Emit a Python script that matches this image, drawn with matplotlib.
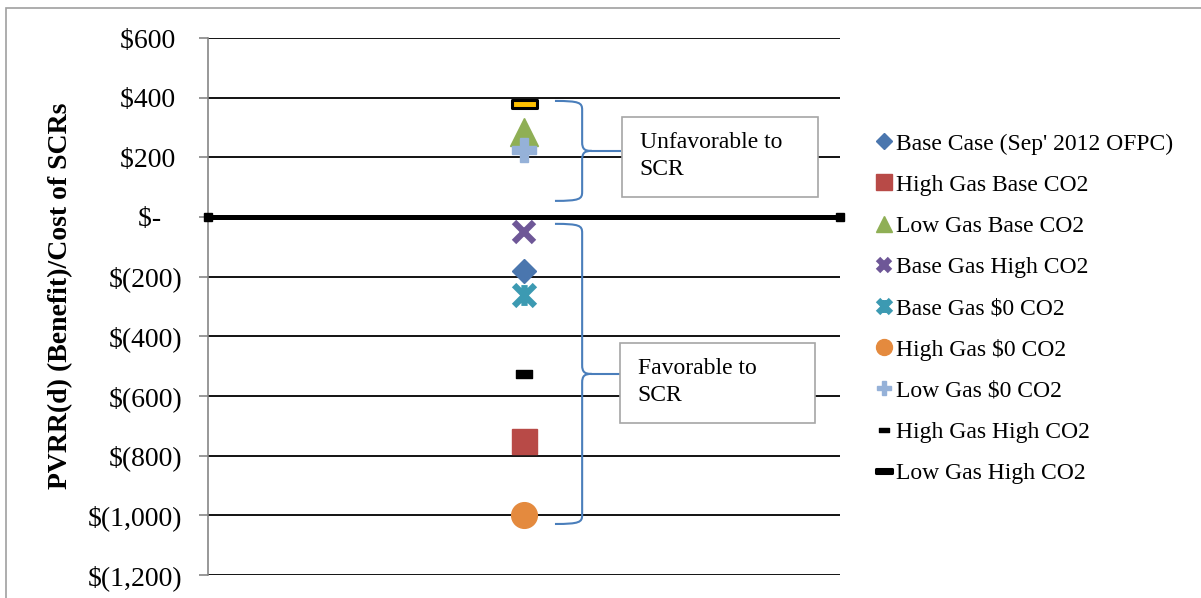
import numpy as np
import matplotlib
matplotlib.use("Agg")
import matplotlib.pyplot as plt
from matplotlib.path import Path
from matplotlib.patches import PathPatch, Rectangle
import matplotlib.transforms as mtransforms

plt.rcParams['font.family'] = ['Liberation Serif', 'DejaVu Serif']

# scenario results, PVRR(d) in $ millions
cases = ["Base Case (Sep' 2012 OFPC)", "High Gas Base CO2", "Low Gas Base CO2",
         "Base Gas High CO2", "Base Gas $0 CO2", "High Gas $0 CO2",
         "Low Gas $0 CO2", "High Gas High CO2", "Low Gas High CO2"]
pvrr = [-180, -750, 285, -50, -260, -1000, 225, -525, 380]

yticks = [600, 400, 200, 0, -200, -400, -600, -800, -1000, -1200]


def money(v):
    # accounting style: keep room for the closing bracket
    if v == 0:
        return "$-   "
    if v < 0:
        return "$({:,})".format(-v)
    return "${:,} ".format(v)


# marker shapes
dash_wide = Path([(-1, -0.3), (1, -0.3), (1, 0.3), (-1, 0.3), (-1, -0.3)],
                 [Path.MOVETO, Path.LINETO, Path.LINETO, Path.LINETO, Path.CLOSEPOLY])
dash_small = Path([(-1, -0.5), (1, -0.5), (1, 0.5), (-1, 0.5), (-1, -0.5)],
                  [Path.MOVETO, Path.LINETO, Path.LINETO, Path.LINETO, Path.CLOSEPOLY])
star = Path([(-0.5, -0.5), (0.5, 0.5), (-0.5, 0.5), (0.5, -0.5), (0, -0.5), (0, 0.5)],
            [Path.MOVETO, Path.LINETO, Path.MOVETO, Path.LINETO, Path.MOVETO, Path.LINETO])

styles = [
    dict(marker='D', ms=12.5, mfc='#4A76AE', mec='#4A76AE'),
    dict(marker='s', ms=18, mfc='#B84A47', mec='#B84A47'),
    dict(marker='^', ms=19.5, mfc='#8FAF55', mec='#8FAF55'),
    dict(marker='x', ms=15, mec='#6E5797', mew=4.5),
    dict(marker=star, ms=15, mfc='#3C9AB2', mec='#3C9AB2', mew=4.5),
    dict(marker='o', ms=18.5, mfc='#E48A3E', mec='#E48A3E'),
    dict(marker='P', ms=17, mfc='#95B1D8', mec='#95B1D8'),
    dict(marker=dash_small, ms=11, mfc='black', mec='black', mew=1),
    dict(marker=dash_wide, ms=18, mfc='#FFC000', mec='black', mew=2.2),
]

fig = plt.figure(figsize=(12.01, 5.98), dpi=100)
ax = fig.add_axes([208 / 1201, 1 - 575 / 598, 632 / 1201, 537 / 598])

for name, val, st in zip(cases, pvrr, styles):
    ax.plot([0.5], [val], linestyle='none', label=name, zorder=5, **st)

ax.set_xlim(0, 1)
ax.set_ylim(-1200, 600)
ax.set_yticks(yticks)
ax.set_yticklabels([money(v) for v in yticks], fontsize=20)
ax.set_xticks([])
ax.grid(axis='y', color='black', lw=1.3)
ax.set_axisbelow(True)
for s in ['top', 'right', 'bottom']:
    ax.spines[s].set_visible(False)
ax.spines['left'].set_color('#868686')
ax.spines['left'].set_linewidth(1.2)
ax.tick_params(axis='y', direction='out', length=6.5, width=1.2, color='#868686', pad=12)
ax.set_ylabel("PVRR(d) (Benefit)/Cost of SCRs", fontsize=20, fontweight='bold')
ax.yaxis.set_label_coords(-0.214, 0.52)

# break-even line
ax.axhline(0, color='black', lw=3.6, zorder=4)
ax.plot([0, 1], [0, 0], linestyle='none', marker='s', ms=6, color='black',
        clip_on=False, zorder=4)

# braces grouping the scenarios
trans = mtransforms.blended_transform_factory(ax.transAxes, ax.transData)


def brace(top, bot, x_end=0.549, x_v=0.592, x_tip=0.607, x_lead=0.652, curl=30):
    mid = (top + bot) / 2.0
    verts = [(x_end, top),
             (x_v - 0.004, top), (x_v, top - 6), (x_v, top - curl),
             (x_v, mid + curl),
             (x_v, mid + 6), (x_v + 0.004, mid), (x_tip, mid),
             (x_v + 0.004, mid), (x_v, mid - 6), (x_v, mid - curl),
             (x_v, bot + curl),
             (x_v, bot + 6), (x_v - 0.004, bot), (x_end, bot)]
    codes = [Path.MOVETO,
             Path.CURVE4, Path.CURVE4, Path.CURVE4,
             Path.LINETO,
             Path.CURVE4, Path.CURVE4, Path.CURVE4,
             Path.CURVE4, Path.CURVE4, Path.CURVE4,
             Path.LINETO,
             Path.CURVE4, Path.CURVE4, Path.CURVE4]
    ax.add_patch(PathPatch(Path(verts, codes), transform=trans, fill=False,
                           edgecolor='#4A7EBB', lw=1.5, clip_on=False, zorder=3))
    ax.plot([x_tip, x_lead], [mid, mid], transform=trans, color='#4A7EBB',
            lw=1.5, clip_on=False, zorder=3)


brace(389, 54)
brace(-23, -1029)


def note(x0, y0, x1, y1, text):
    ax.add_patch(Rectangle((x0, y0), x1 - x0, y1 - y0, transform=ax.transAxes,
                           facecolor='white', edgecolor='#A6A6A6', lw=1.2, zorder=6))
    ax.text(x0 + 0.028, (y0 + y1) / 2 + 0.002, text, transform=ax.transAxes, fontsize=17,
            ha='left', va='center', linespacing=1.4, zorder=7)


note(0.655, 0.704, 0.965, 0.853, "Unfavorable to\nSCR")
note(0.652, 0.283, 0.960, 0.432, "Favorable to\nSCR")

leg = fig.legend(loc='upper left', bbox_to_anchor=(875 / 1201, 1 - 133 / 598),
                 frameon=False, fontsize=17, markerscale=0.62, handlelength=0.8,
                 handletextpad=0.1, labelspacing=0.83, borderpad=0, borderaxespad=0,
                 numpoints=1)
leg.legend_handles[-1].set_markerfacecolor('black')

# outer chart frame
fig.add_artist(Rectangle((6 / 1201, -0.05), 1.2, 1 - 8 / 598 + 0.05,
                         transform=fig.transFigure, fill=False,
                         edgecolor='#A0A0A0', lw=1.2))

fig.savefig("out.png", dpi=100)
